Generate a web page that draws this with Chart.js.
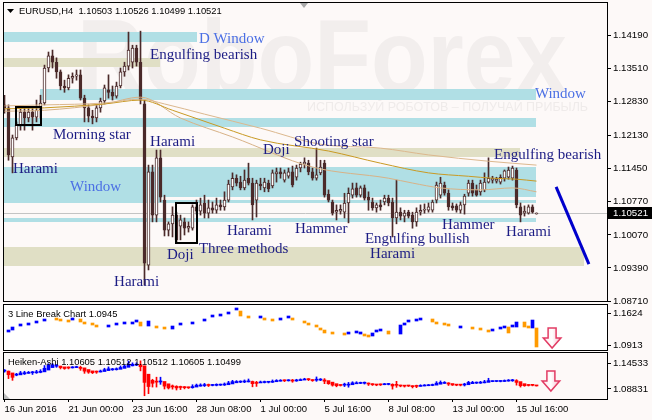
<!DOCTYPE html>
<html><head><meta charset="utf-8">
<script src="https://cdn.jsdelivr.net/npm/chart.js@4.4.1/dist/chart.umd.min.js"></script>
<style>
html,body{margin:0;padding:0;background:#fdf9f8;}
body{width:652px;height:420px;position:relative;overflow:hidden;}
canvas{position:absolute;left:0;display:block;}
</style></head><body>
<canvas id="cMain" width="652" height="306" style="top:0;z-index:1"></canvas>
<canvas id="cLB" width="652" height="49" style="top:302px;z-index:2"></canvas>
<canvas id="cHA" width="652" height="70" style="top:350px;z-index:3"></canvas>
<script>
// ---------------- DATA ----------------
const symbolName = 'EURUSD,H4';
const candleOpen = [1.1275,1.1269,1.1168,1.1207,1.1234,1.1260,1.1248,1.1260,1.1250,1.1264,
 1.1279,1.1351,1.1376,1.1363,1.1343,1.1314,1.1310,1.1330,1.1334,1.1337,
 1.1289,1.1269,1.1252,1.1248,1.1269,1.1283,1.1306,1.1301,1.1293,1.1314,
 1.1343,1.1355,1.1363,1.1392,1.1363,1.1277,1.0945,1.1137,1.1048,1.1166,
 1.1079,1.1017,1.1030,1.1048,1.1025,1.1034,1.1021,1.1021,1.1065,1.1056,
 1.1073,1.1052,1.1063,1.1058,1.1069,1.1065,1.1079,1.1106,1.1124,1.1116,
 1.1104,1.1124,1.1114,1.1079,1.1112,1.1104,1.1114,1.1108,1.1133,1.1137,
 1.1120,1.1128,1.1137,1.1126,1.1145,1.1153,1.1155,1.1137,1.1124,1.1135,
 1.1155,1.1091,1.1075,1.1054,1.1056,1.1054,1.1073,1.1089,1.1104,1.1089,
 1.1104,1.1085,1.1075,1.1063,1.1069,1.1075,1.1083,1.1075,1.1042,1.1054,
 1.1046,1.1054,1.1048,1.1034,1.1054,1.1058,1.1058,1.1058,1.1079,1.1089,
 1.1110,1.1093,1.1067,1.1067,1.1058,1.1069,1.1093,1.1114,1.1100,1.1096,
 1.1100,1.1116,1.1120,1.1118,1.1116,1.1124,1.1126,1.1124,1.1141,1.1065,
 1.1052,1.1052,1.1065,1.10503];
const candleHigh = [1.1295,1.1275,1.1213,1.1240,1.1269,1.1271,1.1269,1.1269,1.1285,1.1295,
 1.1357,1.1384,1.1388,1.1372,1.1347,1.1326,1.1337,1.1341,1.1347,1.1347,
 1.1295,1.1275,1.1264,1.1275,1.1289,1.1316,1.1337,1.1314,1.1322,1.1351,
 1.1363,1.1425,1.1398,1.1398,1.1427,1.1285,1.1151,1.1151,1.1182,1.1182,
 1.1089,1.1034,1.1065,1.1054,1.1048,1.1042,1.1034,1.1069,1.1079,1.1083,
 1.1089,1.1079,1.1075,1.1083,1.1079,1.1096,1.1120,1.1135,1.1131,1.1128,
 1.1141,1.1155,1.1124,1.1120,1.1124,1.1124,1.1120,1.1141,1.1145,1.1145,
 1.1141,1.1145,1.1149,1.1151,1.1157,1.1166,1.1161,1.1145,1.1186,1.1161,
 1.1161,1.1100,1.1079,1.1069,1.1069,1.1093,1.1104,1.1114,1.1114,1.1108,
 1.1110,1.1096,1.1083,1.1073,1.1079,1.1089,1.1089,1.1083,1.1120,1.1063,
 1.1058,1.1058,1.1054,1.1063,1.1069,1.1071,1.1073,1.1079,1.1116,1.1126,
 1.1116,1.1100,1.1073,1.1071,1.1075,1.1091,1.1120,1.1120,1.1110,1.1120,
 1.1135,1.1166,1.1128,1.1126,1.1131,1.1141,1.1147,1.1149,1.1145,1.1073,
 1.1067,1.1069,1.1069,1.10526];
const candleLow = [1.1258,1.1161,1.1135,1.1203,1.1223,1.1223,1.1240,1.1223,1.1240,1.1248,
 1.1275,1.1343,1.1351,1.1330,1.1306,1.1301,1.1306,1.1320,1.1326,1.1285,
 1.1240,1.1240,1.1236,1.1240,1.1260,1.1277,1.1289,1.1285,1.1289,1.1310,
 1.1334,1.1347,1.1351,1.1355,1.1277,1.0904,1.0935,1.1034,1.1034,1.1075,
 1.1005,1.1005,1.1003,1.0990,1.0997,1.1007,1.1013,1.1017,1.1050,1.1048,
 1.1042,1.1042,1.1052,1.1052,1.1058,1.1058,1.1075,1.1100,1.1108,1.1100,
 1.1100,1.1110,1.1038,1.1044,1.1100,1.1096,1.1096,1.1104,1.1116,1.1124,
 1.1116,1.1124,1.1106,1.1120,1.1137,1.1145,1.1131,1.1120,1.1120,1.1131,
 1.1085,1.1075,1.1048,1.1038,1.1050,1.1042,1.1032,1.1083,1.1085,1.1085,
 1.1079,1.1058,1.1058,1.1054,1.1058,1.1069,1.1067,1.1003,1.1030,1.1038,
 1.1034,1.1042,1.1021,1.1025,1.1048,1.1052,1.1054,1.1054,1.1073,1.1083,
 1.1089,1.1058,1.1058,1.1054,1.1052,1.1050,1.1087,1.1087,1.1087,1.1089,
 1.1096,1.1114,1.1114,1.1114,1.1112,1.1118,1.1122,1.1120,1.1063,1.1034,
 1.1046,1.1050,1.1052,1.10499];
const candleClose = [1.1269,1.1172,1.1207,1.1234,1.1260,1.1248,1.1260,1.1250,1.1264,1.1279,
 1.1351,1.1376,1.1363,1.1343,1.1314,1.1310,1.1330,1.1334,1.1337,1.1289,
 1.1269,1.1252,1.1248,1.1269,1.1283,1.1310,1.1301,1.1293,1.1314,1.1343,
 1.1355,1.1388,1.1392,1.1363,1.1285,1.0949,1.1137,1.1048,1.1166,1.1085,
 1.1017,1.1030,1.1048,1.0997,1.1038,1.1021,1.1025,1.1065,1.1056,1.1069,
 1.1052,1.1063,1.1058,1.1069,1.1065,1.1079,1.1112,1.1124,1.1114,1.1104,
 1.1120,1.1114,1.1069,1.1114,1.1108,1.1116,1.1102,1.1135,1.1137,1.1133,
 1.1135,1.1137,1.1110,1.1145,1.1153,1.1157,1.1137,1.1124,1.1131,1.1147,
 1.1089,1.1079,1.1052,1.1058,1.1060,1.1073,1.1093,1.1102,1.1089,1.1104,
 1.1083,1.1079,1.1063,1.1069,1.1065,1.1083,1.1073,1.1042,1.1054,1.1046,
 1.1052,1.1046,1.1034,1.1054,1.1058,1.1060,1.1065,1.1075,1.1110,1.1114,
 1.1093,1.1065,1.1063,1.1058,1.1069,1.1087,1.1114,1.1093,1.1089,1.1114,
 1.1116,1.1124,1.1124,1.1122,1.1126,1.1139,1.1141,1.1145,1.1069,1.1048,
 1.1056,1.1065,1.1054,1.10521];

// moving averages (read at sample bars)
const maSlowBar = [0,10,25,34,40,50,64,79,94,106,121,133];
const maSlowVal = [1.1273,1.1275,1.1279,1.1287,1.1277,1.1256,1.1227,1.1194,1.1186,1.1172,1.1159,1.1151];
const maMidBar = [0,10,25,34,42,55,64,81,94,106,116,122,128,133];
const maMidVal = [1.1267,1.1269,1.1277,1.1285,1.1264,1.1227,1.1203,1.1180,1.1155,1.1135,1.1128,1.1124,1.1122,1.1118];
const maFastBar = [0,10,25,34,44,57,77,96,102,109,119,127,133];
const maFastVal = [1.1262,1.1264,1.1277,1.1291,1.1248,1.1209,1.1147,1.1124,1.1114,1.1104,1.1100,1.1104,1.1096];

// price axis ticks
const priceTicks = [1.14190,1.13510,1.12830,1.12130,1.11450,1.10770,1.10070,1.09390,1.08710];

// zones: window (blue) and support/resistance (khaki)
const zoneFrom = [-0.4,8.9,-0.4,-0.4,-0.4,-0.4,-0.4,-0.4,-0.4,-0.4];
const zoneTo   = [48.1,132.9,132.9,132.9,38.9,132.9,132.9,38.9,128.9,144.9];
const zoneHigh = [1.1425,1.1308,1.1248,1.1147,1.1085,1.1079,1.1042,1.1372,1.1186,1.0982];
const zoneLow  = [1.1405,1.1285,1.1229,1.1085,1.1079,1.1073,1.1034,1.1353,1.1168,1.0943];
const zoneIsWindow = [true,true,true,true,true,true,true,false,false,false];

// pattern boxes
const boxFrom = [2.9,42.9];
const boxTo = [9.1,48.1];
const boxHigh = [1.1271,1.1073];
const boxLow = [1.1234,1.0990];

// trend line
const trendBar = [137.9,146.1];
const trendVal = [1.1106,1.0947];

// pattern labels
const patternText = ['D Window','Engulfing bearish','Window','Morning star','Harami','Harami','Window','Doji','Shooting star','Engulfing bearish','Harami','Hammer','Three methods','Doji','Harami','Engulfing bullish','Harami','Hammer','Harami'];
const patternBar = [48.6,36.4,132.6,12.1,36.4,2.1,16.4,64.6,72.4,122.4,55.6,72.6,48.6,40.6,27.4,90.1,91.4,109.4,125.4];
const patternPrice = [1.1402,1.1370,1.1289,1.1205,1.1190,1.1135,1.1098,1.1174,1.1190,1.1164,1.1007,1.1011,1.0970,1.0958,1.0902,1.0991,1.0960,1.1019,1.1005];
const patternIsWindow = [true,false,true,false,false,false,true,false,false,false,false,false,false,false,false,false,false,false,false];

// 3 Line Break blocks
const lbBar = [1,2,4,6,8,10,13,14,16,17,19,20,22,23,26,28,30,32,33,34,36,38,40,42,44,47,50,52,54,56,58,59,61,64,65,67,69,71,72,75,76,78,79,80,82,85,86,88,89,90,91,92,93,94,96,99,100,101,103,104,107,108,110,111,114,117,119,121,122,124,125,126,127,128,130,131,132,133];
const lbOpen = [1.1202,1.1246,1.1335,1.1357,1.1402,1.1446,1.1491,1.1468,1.1446,1.1468,1.1491,1.1424,1.1380,1.1335,1.1313,1.1357,1.1380,1.1380,1.1424,1.1424,1.1335,1.1313,1.1291,1.1268,1.1357,1.1380,1.1446,1.1535,1.1557,1.1602,1.1691,1.1668,1.1557,1.1513,1.1513,1.1491,1.1468,1.1513,1.1513,1.1446,1.1380,1.1335,1.1291,1.1246,1.1180,1.1157,1.1157,1.1180,1.1157,1.1157,1.1113,1.1113,1.1202,1.1224,1.1224,1.1157,1.1357,1.1424,1.1446,1.1468,1.1491,1.1424,1.1380,1.1357,1.1291,1.1291,1.1268,1.1224,1.1224,1.1268,1.1291,1.1313,1.1313,1.1313,1.1424,1.1313,1.1291,1.1291];
const lbClose = [1.1246,1.1313,1.1380,1.1402,1.1446,1.1468,1.1468,1.1446,1.1424,1.1513,1.1424,1.1380,1.1357,1.1313,1.1357,1.1380,1.1402,1.1424,1.1446,1.1335,1.1446,1.1291,1.1268,1.1335,1.1380,1.1402,1.1468,1.1557,1.1580,1.1624,1.1735,1.1557,1.1513,1.1557,1.1468,1.1446,1.1513,1.1557,1.1468,1.1402,1.1357,1.1313,1.1246,1.1180,1.1157,1.1135,1.1180,1.1202,1.1202,1.1113,1.1091,1.1180,1.1224,1.1246,1.1157,1.1357,1.1402,1.1446,1.1468,1.1491,1.1424,1.1380,1.1357,1.1335,1.1335,1.1268,1.1246,1.1202,1.1246,1.1291,1.1313,1.1180,1.1335,1.1424,1.1313,1.1291,1.1468,1.0869];
const lbLegendValue = 1.0945;
const lbTicks = [1.1624,1.0913];

// Heiken-Ashi bodies
const haOpen = [1.1273,1.1273,1.1246,1.1213,1.1217,1.1232,1.1240,1.1248,1.1248,1.1254,
 1.1262,1.1289,1.1326,1.1347,1.1349,1.1337,1.1324,1.1322,1.1326,1.1330,
 1.1322,1.1297,1.1277,1.1262,1.1260,1.1267,1.1281,1.1293,1.1295,1.1300,
 1.1314,1.1330,1.1353,1.1363,1.1370,1.1353,1.1227,1.1135,1.1112,1.1110,
 1.1118,1.1083,1.1052,1.1044,1.1032,1.1030,1.1028,1.1025,1.1034,1.1048,
 1.1056,1.1060,1.1058,1.1060,1.1063,1.1065,1.1069,1.1081,1.1098,1.1108,
 1.1110,1.1112,1.1118,1.1102,1.1096,1.1102,1.1106,1.1106,1.1114,1.1122,
 1.1128,1.1128,1.1131,1.1126,1.1131,1.1139,1.1147,1.1145,1.1137,1.1139,
 1.1141,1.1131,1.1108,1.1085,1.1069,1.1063,1.1063,1.1069,1.1083,1.1089,
 1.1091,1.1091,1.1085,1.1077,1.1071,1.1069,1.1073,1.1075,1.1063,1.1060,
 1.1054,1.1050,1.1050,1.1044,1.1044,1.1050,1.1054,1.1058,1.1063,1.1077,
 1.1089,1.1096,1.1087,1.1075,1.1069,1.1065,1.1069,1.1085,1.1093,1.1093,
 1.1098,1.1104,1.1116,1.1118,1.1118,1.1118,1.1124,1.1128,1.1131,1.1116,
 1.1085,1.1069,1.1063,1.10605];
const haClose = [1.1275,1.1219,1.1180,1.1221,1.1246,1.1250,1.1254,1.1250,1.1260,1.1271,
 1.1316,1.1363,1.1370,1.1351,1.1326,1.1312,1.1320,1.1330,1.1337,1.1314,
 1.1273,1.1258,1.1250,1.1258,1.1275,1.1295,1.1308,1.1297,1.1304,1.1328,
 1.1349,1.1378,1.1376,1.1378,1.1339,1.1104,1.1042,1.1091,1.1108,1.1126,
 1.1048,1.1021,1.1036,1.1021,1.1028,1.1025,1.1023,1.1042,1.1063,1.1065,
 1.1065,1.1058,1.1063,1.1065,1.1067,1.1075,1.1096,1.1116,1.1118,1.1112,
 1.1116,1.1126,1.1085,1.1089,1.1110,1.1110,1.1108,1.1122,1.1133,1.1135,
 1.1128,1.1133,1.1124,1.1135,1.1147,1.1155,1.1145,1.1131,1.1141,1.1143,
 1.1122,1.1085,1.1063,1.1054,1.1058,1.1065,1.1075,1.1098,1.1098,1.1096,
 1.1093,1.1079,1.1069,1.1065,1.1067,1.1079,1.1077,1.1050,1.1060,1.1050,
 1.1048,1.1050,1.1040,1.1044,1.1056,1.1060,1.1063,1.1067,1.1093,1.1104,
 1.1102,1.1079,1.1065,1.1063,1.1063,1.1075,1.1104,1.1104,1.1096,1.1104,
 1.1112,1.1131,1.1122,1.1120,1.1120,1.1131,1.1135,1.1135,1.1104,1.1054,
 1.1054,1.1058,1.1060,1.10512];
const haLegendValues = [1.10605,1.10512,1.10512,1.10605,1.10499];
const haTickPos = [1.1395,1.1005];
const haTickLabel = ['1.14533','1.08831'];

// arrows in sub windows
const lbArrow = {bar:136.9, top:1.1291, head:1.1069, tip:1.0846};
const haArrow = {bar:136.6, top:1.1275, head:1.1125, tip:1.0975};

// time axis
const dateTickBar = [0,16,32,48,64,80,96,112,128];
const dateTickLabel = ['16 Jun 2016','21 Jun 00:00','23 Jun 16:00','28 Jun 08:00','1 Jul 00:00','5 Jul 16:00','8 Jul 08:00','13 Jul 00:00','15 Jul 16:00'];

// ---------------- STYLE ----------------
const BG = '#fdf9f8';
const CANDLE = '#4b2a2a';
const ZONE_BLUE = '#b0dfe5';
const ZONE_KHAKI = '#e0dfc5';
const NAVY = '#1c1c84';
const WINBLUE = '#4b6fe4';
const X_MIN = -0.125, X_MAX = 150.625;
const SMALL = '"Liberation Sans", Arial, sans-serif';
Chart.defaults.font.family = SMALL;

function drawFrame(chart){
  const {ctx, chartArea:a} = chart;
  ctx.save(); ctx.strokeStyle = '#000'; ctx.lineWidth = 1;
  ctx.strokeRect(a.left-0.5, a.top-0.5, a.width+1, a.height+1); ctx.restore();
}
function clipArea(chart){
  const {ctx, chartArea:a} = chart;
  ctx.beginPath(); ctx.rect(a.left, a.top, a.width, a.height); ctx.clip();
}
function drawArrow(chart, ar){
  const {ctx, scales:{x, y}} = chart;
  const cx = x.getPixelForValue(ar.bar);
  const sw = x.getPixelForValue(ar.bar+1) - cx;
  const hw = sw*2.2;
  const t = y.getPixelForValue(ar.top), h = y.getPixelForValue(ar.head), b = y.getPixelForValue(ar.tip);
  ctx.save();
  const g = ctx.createLinearGradient(cx-hw, 0, cx+hw, 0);
  g.addColorStop(0, '#ffe6ec'); g.addColorStop(0.5, '#ffffff'); g.addColorStop(1, '#f7b8c8');
  ctx.beginPath();
  ctx.moveTo(cx-sw, t); ctx.lineTo(cx+sw, t); ctx.lineTo(cx+sw, h); ctx.lineTo(cx+hw, h);
  ctx.lineTo(cx, b); ctx.lineTo(cx-hw, h); ctx.lineTo(cx-sw, h); ctx.closePath();
  ctx.fillStyle = g; ctx.fill();
  ctx.strokeStyle = '#e23c64'; ctx.lineWidth = 1.5; ctx.stroke();
  ctx.restore();
}
function yAxisFit(s){ s.width = 45; s.paddingTop = 0; s.paddingBottom = 0; }

// ---------------- MAIN CHART ----------------
const mainDeco = {
  id: 'mainDeco',
  beforeDatasetsDraw(chart){
    const {ctx, chartArea:a, scales:{x, y}} = chart;
    ctx.save();
    ctx.fillStyle = BG; ctx.fillRect(a.left, a.top, a.width, a.height);
    clipArea(chart);
    // watermark
    ctx.fillStyle = '#f2eeed';
    ctx.textBaseline = 'alphabetic'; ctx.textAlign = 'left';
    ctx.font = 'bold 104px ' + SMALL;
    ctx.fillText('RoboForex', a.left + 73, a.top + 89, 490);
    ctx.fillStyle = '#efebea';
    ctx.font = '12.5px ' + SMALL;
    ctx.fillText('ИСПОЛЬЗУЙ РОБОТОВ – ПОЛУЧАЙ ПРИБЫЛЬ', a.left + 303, a.top + 108, 284);
    // zones
    for (let k = 0; k < zoneFrom.length; k++){
      const x0 = Math.round(x.getPixelForValue(zoneFrom[k])), x1 = Math.round(x.getPixelForValue(zoneTo[k]));
      const y0 = Math.round(y.getPixelForValue(zoneHigh[k])), y1 = Math.round(y.getPixelForValue(zoneLow[k]));
      ctx.fillStyle = zoneIsWindow[k] ? ZONE_BLUE : ZONE_KHAKI;
      ctx.fillRect(x0, y0, x1-x0, y1-y0);
    }
    // bid line
    const last = candleClose[candleClose.length-1];
    const py = Math.round(y.getPixelForValue(last)) + 0.5;
    ctx.strokeStyle = '#c4c4c4'; ctx.lineWidth = 1;
    ctx.beginPath(); ctx.moveTo(a.left, py); ctx.lineTo(a.right, py); ctx.stroke();
    ctx.restore();
  },
  afterDatasetsDraw(chart){
    const {ctx, scales:{x, y}} = chart;
    ctx.save();
    clipArea(chart);
    // pattern boxes
    ctx.strokeStyle = '#000'; ctx.lineWidth = 2;
    for (let k = 0; k < boxFrom.length; k++){
      const x0 = Math.round(x.getPixelForValue(boxFrom[k])), x1 = Math.round(x.getPixelForValue(boxTo[k]));
      const y0 = Math.round(y.getPixelForValue(boxHigh[k])), y1 = Math.round(y.getPixelForValue(boxLow[k]));
      ctx.strokeRect(x0, y0, x1-x0, y1-y0);
    }
    // trend line
    ctx.strokeStyle = '#0000cc'; ctx.lineWidth = 3; ctx.lineCap = 'butt';
    ctx.beginPath();
    ctx.moveTo(x.getPixelForValue(trendBar[0]), y.getPixelForValue(trendVal[0]));
    ctx.lineTo(x.getPixelForValue(trendBar[1]), y.getPixelForValue(trendVal[1]));
    ctx.stroke();
    // labels
    ctx.font = '15px "Liberation Serif", "Times New Roman", serif';
    ctx.textAlign = 'left'; ctx.textBaseline = 'alphabetic';
    for (let k = 0; k < patternText.length; k++){
      ctx.fillStyle = patternIsWindow[k] ? WINBLUE : NAVY;
      ctx.fillText(patternText[k], x.getPixelForValue(patternBar[k]), y.getPixelForValue(patternPrice[k]));
    }
    ctx.restore();
  },
  afterDraw(chart){
    const {ctx, chartArea:a, scales:{y}} = chart;
    drawFrame(chart);
    ctx.save();
    // chart shift marker
    ctx.fillStyle = '#a9a9a9';
    ctx.beginPath(); ctx.moveTo(a.left+296, a.top); ctx.lineTo(a.left+304, a.top); ctx.lineTo(a.left+300, a.top+5); ctx.closePath(); ctx.fill();
    // header
    ctx.fillStyle = '#000';
    ctx.beginPath(); ctx.moveTo(a.left+3, a.top+6); ctx.lineTo(a.left+10, a.top+6); ctx.lineTo(a.left+6.5, a.top+10); ctx.closePath(); ctx.fill();
    const n = candleClose.length-1;
    ctx.font = '9.4px ' + SMALL; ctx.textBaseline = 'alphabetic'; ctx.textAlign = 'left';
    ctx.fillText(symbolName + '  ' + [candleOpen[n], candleHigh[n], candleLow[n], candleClose[n]].map(v => v.toFixed(5)).join(' '), a.left+15, a.top+11);
    // current price label
    const py = Math.round(y.getPixelForValue(candleClose[n]));
    ctx.fillStyle = '#000'; ctx.fillRect(a.right+1, py-6, 44, 12);
    ctx.fillStyle = '#fff'; ctx.font = '9.7px ' + SMALL; ctx.textBaseline = 'middle';
    ctx.fillText(candleClose[n].toFixed(5), a.right+6, py+0.5);
    ctx.restore();
  }
};

new Chart(document.getElementById('cMain'), {
  type: 'bar',
  data: { datasets: [
    { type:'line', data: maSlowBar.map((b,k)=>({x:b, y:maSlowVal[k]})), borderColor:'#dcb88e', borderWidth:1, pointRadius:0, cubicInterpolationMode:'monotone', order:0 },
    { type:'line', data: maMidBar.map((b,k)=>({x:b, y:maMidVal[k]})), borderColor:'#c99a24', borderWidth:1, pointRadius:0, cubicInterpolationMode:'monotone', order:0 },
    { type:'line', data: maFastBar.map((b,k)=>({x:b, y:maFastVal[k]})), borderColor:'#d8b287', borderWidth:1, pointRadius:0, cubicInterpolationMode:'monotone', order:0 },
    { data: candleOpen.map((o,i)=>({x:i, y:[o, candleClose[i]]})),
      backgroundColor: c => (candleClose[c.dataIndex] >= candleOpen[c.dataIndex] ? '#ffffff' : CANDLE),
      borderColor: CANDLE, borderWidth: 1, borderSkipped: false, barThickness: 3, minBarLength: 1, grouped: false, order: 1 },
    { data: candleLow.map((l,i)=>({x:i, y:[l, candleHigh[i]]})),
      backgroundColor: CANDLE, barThickness: 1, grouped: false, order: 2 }
  ]},
  options: {
    responsive:false, animation:false, events:[],
    layout:{padding:{left:4, top:3, right:0, bottom:5}},
    plugins:{legend:{display:false}, tooltip:{enabled:false}},
    scales:{
      x:{type:'linear', min:X_MIN, max:X_MAX, display:false, offset:false},
      y:{position:'right', min:1.0871, max:1.1485,
         afterBuildTicks: s => { s.ticks = priceTicks.map(v => ({value:v})); },
         afterFit: yAxisFit,
         grid:{drawOnChartArea:false, color:'#000', tickLength:4},
         border:{display:false},
         ticks:{color:'#000', padding:2, font:{size:9.7}, callback: v => Number(v).toFixed(5)}}
    }
  },
  plugins:[mainDeco]
});

// ---------------- 3 LINE BREAK ----------------
const lbDeco = {
  id:'lbDeco',
  beforeDatasetsDraw(chart){
    const {ctx, chartArea:a} = chart;
    ctx.save(); ctx.fillStyle = '#ffffff'; ctx.fillRect(a.left, a.top, a.width, a.height); ctx.restore();
  },
  afterDraw(chart){
    const {ctx, chartArea:a} = chart;
    drawFrame(chart);
    ctx.save(); clipArea(chart);
    drawArrow(chart, lbArrow);
    ctx.fillStyle = '#000'; ctx.font = '9.4px ' + SMALL; ctx.textBaseline = 'middle'; ctx.textAlign = 'left';
    ctx.fillText('3 Line Break Chart ' + lbLegendValue.toFixed(4), a.left+4, a.top+9);
    ctx.restore();
  }
};
new Chart(document.getElementById('cLB'), {
  type:'bar',
  data:{datasets:[{
    data: lbBar.map((b,k)=>({x:b, y:[lbOpen[k], lbClose[k]]})),
    backgroundColor: c => (lbClose[c.dataIndex] > lbOpen[c.dataIndex] ? '#0000ff' : '#ff9a00'),
    barThickness:3, minBarLength:2, grouped:false
  }]},
  options:{
    responsive:false, animation:false, events:[],
    layout:{padding:{left:4, top:3, right:0, bottom:1}},
    plugins:{legend:{display:false}, tooltip:{enabled:false}},
    scales:{
      x:{type:'linear', min:X_MIN, max:X_MAX, display:false, offset:false},
      y:{position:'right', min:1.0802, max:1.1802,
         afterBuildTicks: s => { s.ticks = lbTicks.map(v => ({value:v})); },
         afterFit: yAxisFit,
         grid:{drawOnChartArea:false, color:'#000', tickLength:4},
         border:{display:false},
         ticks:{color:'#000', padding:2, font:{size:9.7}, callback: v => Number(v).toFixed(4)}}
    }
  },
  plugins:[lbDeco]
});

// ---------------- HEIKEN ASHI ----------------
const haColor = c => (haClose[c.dataIndex] > haOpen[c.dataIndex] ? '#0000ff' : '#ff0000');
const haDeco = {
  id:'haDeco',
  afterDraw(chart){
    const {ctx, chartArea:a} = chart;
    drawFrame(chart);
    ctx.save(); clipArea(chart);
    ctx.fillStyle = '#bdbdbd';
    ctx.beginPath(); ctx.moveTo(a.left, a.bottom); ctx.lineTo(a.left, a.bottom-6); ctx.lineTo(a.left+6, a.bottom); ctx.closePath(); ctx.fill();
    drawArrow(chart, haArrow);
    ctx.fillStyle = '#000'; ctx.font = '9.4px ' + SMALL; ctx.textBaseline = 'middle'; ctx.textAlign = 'left';
    ctx.fillText('Heiken-Ashi ' + haLegendValues.map(v => v.toFixed(5)).join(' '), a.left+4, a.top+9);
    ctx.restore();
  }
};
new Chart(document.getElementById('cHA'), {
  type:'bar',
  data:{datasets:[
    { data: haOpen.map((o,i)=>({x:i, y:[o, haClose[i]]})), backgroundColor: haColor, barThickness:3, minBarLength:1, grouped:false, order:1 },
    { data: candleLow.map((l,i)=>({x:i, y:[l, candleHigh[i]]})), backgroundColor: haColor, barThickness:1, grouped:false, order:2 }
  ]},
  options:{
    responsive:false, animation:false, events:[],
    layout:{padding:{left:4, top:3, right:0, bottom:0}},
    plugins:{legend:{display:false}, tooltip:{enabled:false}},
    scales:{
      x:{type:'linear', min:X_MIN, max:X_MAX, offset:false, position:'bottom',
         afterBuildTicks: s => { s.ticks = dateTickBar.map(v => ({value:v})); },
         afterFit: s => { s.height = 21; s.paddingLeft = 0; s.paddingRight = 0; },
         grid:{drawOnChartArea:false, color:'#000', tickLength:3, offset:false},
         border:{display:false},
         ticks:{color:'#000', padding:2, align:'start', autoSkip:false, maxRotation:0, font:{size:9.5},
                callback: (v, idx) => dateTickLabel[idx]}},
      y:{position:'right', min:1.0855, max:1.1545,
         afterBuildTicks: s => { s.ticks = haTickPos.map(v => ({value:v})); },
         afterFit: yAxisFit,
         grid:{drawOnChartArea:false, color:'#000', tickLength:4},
         border:{display:false},
         ticks:{color:'#000', padding:2, font:{size:9.7}, callback: (v, idx) => haTickLabel[idx]}}
    }
  },
  plugins:[haDeco]
});
</script>
</body></html>
